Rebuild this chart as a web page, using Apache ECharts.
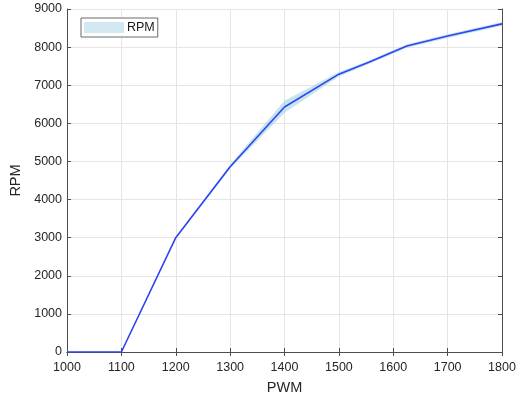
<!DOCTYPE html>
<html><head><meta charset="utf-8">
<script src="https://cdn.jsdelivr.net/npm/echarts@6/dist/echarts.min.js"></script>
<style>html,body{margin:0;padding:0;background:#fff}#c{width:517px;height:398px}</style>
</head><body><div id="c"></div>
<script>
const pwm   = [1000, 1100, 1200, 1300, 1400, 1500, 1555, 1625, 1700, 1800];
const rpm   = [0,    0,    3000, 4860, 6430, 7290, 7600, 8030, 8290, 8610];
const lower = [-20,  -20,  2970, 4810, 6280, 7230, 7555, 7985, 8240, 8560];
const upper = [20,   20,   3030, 4910, 6590, 7350, 7645, 8075, 8340, 8660];
const xTicks = [1000, 1100, 1200, 1300, 1400, 1500, 1600, 1700, 1800];
const yTicks = [0, 1000, 2000, 3000, 4000, 5000, 6000, 7000, 8000, 9000];

const font = 'Liberation Sans, Arial, sans-serif';
const axisCol = '#4d4d4d';
const chart = echarts.init(document.getElementById('c'));
const bandData = pwm.map((x, i) => [x, lower[i], upper[i]]);
const linePts = pwm.map((x, i) => [x, rpm[i]]);
const xMin = xTicks[0], xMax = xTicks[xTicks.length - 1];
const yMin = yTicks[0], yMax = yTicks[yTicks.length - 1];
const baseAxis = {
  axisLine: {show: true, lineStyle: {color: axisCol, width: 1}},
  axisTick: {show: true, inside: true, length: 4, lineStyle: {color: axisCol}},
};
chart.setOption({
  animation: false,
  grid: {left: 67, right: 15, top: 9, bottom: 46, containLabel: false, outerBoundsMode: 'none'},
  legend: {
    left: 81, top: 18, orient: 'vertical',
    data: [{name: 'RPM', icon: 'rect', itemStyle: {color: '#d3e8f1'}}],
    itemWidth: 40, itemHeight: 11, itemGap: 0,
    padding: [3, 3, 3, 3],
    backgroundColor: '#fff', borderColor: '#6b6b6b', borderWidth: 1,
    textStyle: {fontFamily: font, fontSize: 12.5, color: '#1a1a1a', padding: [0, 0, 0, -2]},
    selectedMode: false
  },
  xAxis: [
    Object.assign({}, baseAxis, {
      type: 'value', min: xMin, max: xMax, interval: 100,
      name: 'PWM', nameLocation: 'middle', nameGap: 28,
      nameTextStyle: {fontFamily: font, fontSize: 14.5, color: '#262626'},
      axisLabel: {fontFamily: font, fontSize: 12.5, color: '#262626', margin: 9, formatter: v => String(v)},
      splitLine: {show: true, lineStyle: {color: '#e5e5e5'}}
    }),
    Object.assign({}, baseAxis, {
      type: 'value', min: xMin, max: xMax, interval: 100, position: 'top',
      axisLabel: {show: false}, splitLine: {show: false}
    })
  ],
  yAxis: [
    Object.assign({}, baseAxis, {
      type: 'value', min: yMin, max: yMax, interval: 1000,
      name: 'RPM', nameLocation: 'middle', nameGap: 33,
      nameTextStyle: {fontFamily: font, fontSize: 14.5, color: '#262626'},
      axisLabel: {fontFamily: font, fontSize: 12.5, color: '#262626', margin: 5, formatter: v => String(v)},
      splitLine: {show: true, lineStyle: {color: '#e5e5e5'}}
    }),
    Object.assign({}, baseAxis, {
      type: 'value', min: yMin, max: yMax, interval: 1000, position: 'right',
      axisLabel: {show: false}, splitLine: {show: false}
    })
  ],
  series: [
    {type: 'custom', name: 'RPM', data: bandData, silent: true, clip: true,
     encode: {x: 0, y: [1, 2]},
     renderItem: function (params, api) {
       if (params.dataIndex !== 0) return null;
       const top = bandData.map(d => api.coord([d[0], d[2]]));
       const bot = bandData.map(d => api.coord([d[0], d[1]])).reverse();
       return {type: 'polygon', shape: {points: top.concat(bot)},
               style: {fill: '#add8e6', opacity: 0.7}};
     }},
    {type: 'line', name: 'mean', data: linePts, symbol: 'none',
     lineStyle: {color: '#2f45f2', width: 1.6}, silent: true}
  ]
});
</script></body></html>
